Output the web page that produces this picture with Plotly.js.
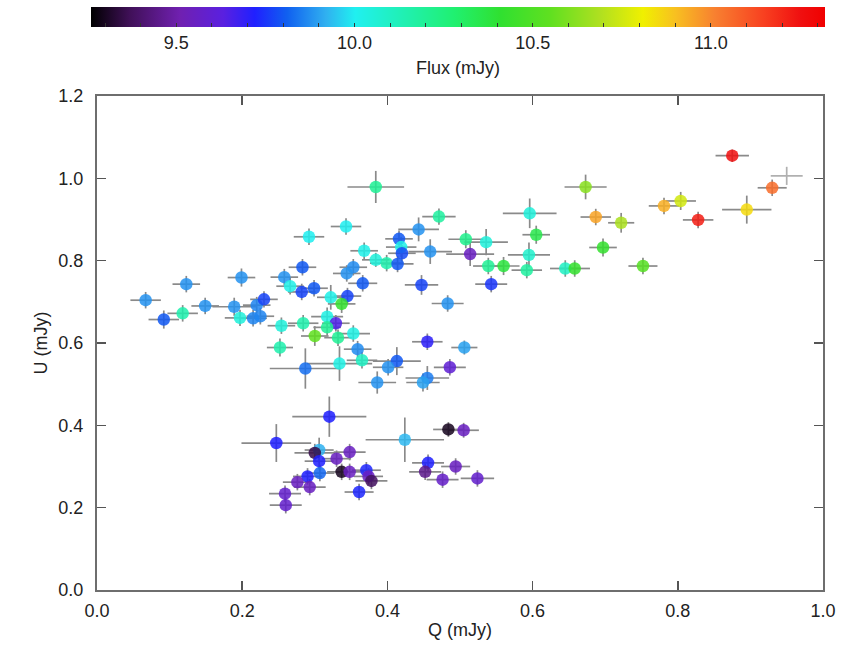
<!DOCTYPE html>
<html>
<head>
<meta charset="utf-8">
<script src="https://cdn.plot.ly/plotly-3.0.1.min.js"></script>
<style>html,body{margin:0;padding:0;background:#fff}#chart{width:855px;height:646px}</style>
</head>
<body>
<div id="chart"></div>
<script>
// Q (mJy) values
const Q = [0.875,0.930,0.895,0.781,0.804,0.828,0.752,0.722,0.673,0.596,0.687,0.605,0.508,0.536,0.514,0.697,0.595,0.539,0.560,0.592,0.645,0.658,0.543,0.483,0.506,
  0.384,0.471,0.343,0.292,0.443,0.416,0.419,0.368,0.420,0.459,0.384,0.399,0.414,0.283,0.353,0.344,0.258,0.266,0.366,0.447,0.282,0.299,0.322,0.345,0.337,0.317,0.329,0.284,0.254,0.300,0.317,0.332,0.353,0.252,0.359,0.455,0.413,0.334,0.365,
  0.067,0.092,0.118,0.123,0.149,0.199,0.189,0.197,0.215,0.225,0.220,0.230,
  0.287,0.401,0.486,0.386,0.455,0.449,
  0.320,0.247,0.424,0.306,0.300,0.330,0.348,0.306,0.307,0.290,0.276,0.293,0.337,0.348,0.371,0.374,0.378,0.361,0.259,0.260,0.484,0.505,0.456,0.452,0.494,0.476,0.524];
// U (mJy) values
const U = [1.055,0.977,0.924,0.933,0.945,0.899,0.787,0.892,0.979,0.915,0.906,0.863,0.852,0.845,0.816,0.832,0.814,0.787,0.787,0.777,0.781,0.781,0.743,0.696,0.589,
  0.979,0.907,0.883,0.858,0.876,0.853,0.833,0.824,0.818,0.822,0.802,0.794,0.792,0.784,0.784,0.769,0.760,0.738,0.745,0.741,0.724,0.733,0.711,0.714,0.695,0.664,0.648,0.648,0.642,0.617,0.638,0.613,0.623,0.589,0.585,0.603,0.556,0.550,0.558,
  0.704,0.657,0.672,0.743,0.690,0.759,0.688,0.661,0.660,0.665,0.692,0.706,
  0.538,0.541,0.541,0.504,0.515,0.504,
  0.421,0.357,0.365,0.340,0.333,0.319,0.335,0.313,0.284,0.276,0.262,0.250,0.287,0.287,0.291,0.276,0.265,0.238,0.234,0.206,0.390,0.388,0.309,0.287,0.300,0.268,0.271];
// Flux (mJy) values (colour)
const flux = [11.25,11.05,10.85,10.93,10.75,11.22,10.52,10.68,10.62,10.05,10.95,10.35,10.22,10.05,9.55,10.42,10.08,10.20,10.38,10.18,10.10,10.42,9.75,9.88,9.90,
  10.20,10.18,10.00,10.00,9.88,9.80,10.02,10.02,9.78,9.88,10.05,10.15,9.80,9.80,9.87,9.88,9.88,10.02,9.80,9.77,9.77,9.80,10.02,9.77,10.42,10.03,9.65,10.15,10.05,10.55,10.20,10.20,10.03,10.15,9.87,9.70,9.80,10.03,10.10,
  9.88,9.80,10.15,9.88,9.88,9.88,9.88,10.05,9.86,9.86,9.86,9.77,
  9.83,9.88,9.60,9.88,9.85,9.90,
  9.72,9.72,9.93,9.92,9.35,9.55,9.55,9.72,9.82,9.72,9.55,9.55,9.30,9.55,9.73,9.55,9.38,9.73,9.58,9.58,9.30,9.55,9.72,9.45,9.55,9.57,9.58];
// Q errors
const errQ = [0.023,0.020,0.034,0.021,0.021,0.021,0.020,0.018,0.029,0.037,0.021,0.019,0.024,0.030,0.033,0.019,0.029,0.021,0.022,0.021,0.021,0.021,0.022,0.022,0.018,
  0.039,0.023,0.021,0.021,0.028,0.019,0.021,0.019,0.019,0.030,0.019,0.023,0.022,0.019,0.019,0.019,0.019,0.019,0.020,0.023,0.019,0.019,0.019,0.019,0.019,0.022,0.019,0.021,0.019,0.019,0.019,0.019,0.023,0.018,0.019,0.021,0.033,0.045,0.021,
  0.021,0.021,0.021,0.019,0.019,0.019,0.030,0.021,0.019,0.019,0.019,0.019,
  0.049,0.021,0.022,0.026,0.030,0.023,
  0.051,0.048,0.054,0.020,0.028,0.020,0.022,0.020,0.020,0.020,0.020,0.022,0.020,0.020,0.020,0.020,0.022,0.020,0.022,0.022,0.021,0.021,0.022,0.022,0.020,0.022,0.023];
// U errors
const errU = [0.015,0.020,0.034,0.020,0.022,0.020,0.020,0.024,0.030,0.036,0.020,0.022,0.022,0.032,0.029,0.022,0.030,0.020,0.022,0.020,0.020,0.020,0.020,0.020,0.017,
  0.039,0.020,0.020,0.020,0.029,0.020,0.024,0.020,0.020,0.030,0.017,0.020,0.020,0.020,0.020,0.020,0.020,0.020,0.020,0.024,0.020,0.020,0.030,0.020,0.022,0.022,0.020,0.020,0.020,0.024,0.020,0.020,0.020,0.022,0.020,0.020,0.034,0.042,0.020,
  0.020,0.022,0.020,0.020,0.020,0.022,0.022,0.020,0.020,0.020,0.020,0.020,
  0.049,0.020,0.020,0.027,0.029,0.022,
  0.049,0.046,0.054,0.030,0.022,0.020,0.020,0.020,0.020,0.020,0.020,0.020,0.020,0.020,0.020,0.020,0.020,0.020,0.020,0.020,0.018,0.018,0.020,0.020,0.020,0.020,0.020];
// point with no flux colour (error cross only)
const Qnf = [0.950], Unf = [1.006], errQnf = [0.022], errUnf = [0.022];
// colour bar ticks
const cbTickVals = [9.3,9.4,9.5,9.6,9.7,9.8,9.9,10.0,10.1,10.2,10.3,10.4,10.5,10.6,10.7,10.8,10.9,11.0,11.1,11.2,11.3];
const cbTickText = ['','','9.5','','','','','10.0','','','','','10.5','','','','','11.0','','',''];
const fluxMin = 9.26, fluxMax = 11.32;

const rainbow = [
  [0,'#000000'],[0.053,'#401058'],[0.121,'#7020b0'],[0.18,'#5a20e0'],[0.223,'#2020ff'],
  [0.267,'#1060f0'],[0.32,'#30b0f0'],[0.36,'#20f0f0'],[0.437,'#20f0a8'],[0.495,'#20f070'],
  [0.558,'#30e030'],[0.626,'#60e020'],[0.694,'#b0e020'],[0.752,'#f0f000'],[0.796,'#f8c020'],
  [0.85,'#f88030'],[0.917,'#f84020'],[0.966,'#f01010'],[1,'#f00000']];

const errStyle = {color:'#8a8a8a', thickness:1.7, width:0};
const font = 'Liberation Sans, Arial, Helvetica, sans-serif';
const txt = {family:font, size:18, color:'#222'};

const traces = [
  {type:'scatter', mode:'markers', x:Qnf, y:Unf, hoverinfo:'skip', showlegend:false,
   marker:{size:12, opacity:0},
   error_x:{type:'data', array:errQnf, color:'#b0b0b0', thickness:1.7, width:0},
   error_y:{type:'data', array:errUnf, color:'#b0b0b0', thickness:1.7, width:0}},
  {type:'scatter', mode:'markers', x:Q, y:U, showlegend:false,
   error_x:Object.assign({type:'data', array:errQ}, errStyle),
   error_y:Object.assign({type:'data', array:errU}, errStyle),
   marker:{size:12.5, opacity:0.86, color:flux, cmin:fluxMin, cmax:fluxMax, colorscale:rainbow, line:{width:0},
     colorbar:{orientation:'h', x:0.497, xanchor:'center', y:1.18, yanchor:'top',
       len:1.0114, lenmode:'fraction', thickness:20, thicknessmode:'pixels', xpad:0, ypad:0,
       outlinewidth:0, tickvals:cbTickVals, ticktext:cbTickText, ticks:'inside', ticklen:4,
       tickcolor:'#333', tickwidth:1, tickfont:txt, title:{text:''}}}}
];

const axisCommon = {showgrid:false, zeroline:false, showline:true, linecolor:'#6e6e6e', linewidth:2,
  mirror:'ticks', ticks:'inside', ticklen:9, tickwidth:1.5, tickcolor:'#555', dtick:0.2, tickformat:'.1f',
  tickfont:txt, automargin:false};

const layout = {
  width:855, height:646, margin:{l:97, r:32, t:96, b:56, autoexpand:false}, paper_bgcolor:'#fff', plot_bgcolor:'#fff',
  xaxis:Object.assign({}, axisCommon, {range:[0,1], ticklabelstandoff:3,
    title:{text:'Q (mJy)', font:txt, standoff:4}}),
  yaxis:Object.assign({}, axisCommon, {range:[0,1.2], ticklabelstandoff:8,
    title:{text:'U (mJy)', font:txt, standoff:6}}),
  annotations:[{text:'Flux (mJy)', xref:'paper', yref:'paper', x:0.497, y:(590-68)/494,
    xanchor:'center', yanchor:'middle', showarrow:false, font:txt}],
  font:{family:font}
};

Plotly.newPlot('chart', traces, layout, {displayModeBar:false, staticPlot:true});
</script>
</body>
</html>
